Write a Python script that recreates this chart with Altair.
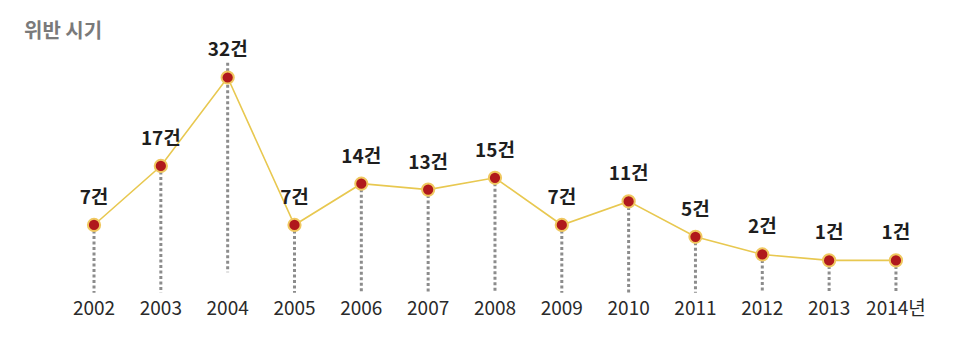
import altair as alt
import pandas as pd

years = [2002, 2003, 2004, 2005, 2006, 2007, 2008, 2009, 2010, 2011, 2012, 2013, 2014]
counts = [7, 17, 32, 7, 14, 13, 15, 7, 11, 5, 2, 1, 1]
year_labels = ["2002", "2003", "2004", "2005", "2006", "2007", "2008", "2009",
               "2010", "2011", "2012", "2013", "2014년"]
value_labels = [f"{c}건" for c in counts]
title_text = "위반 시기"

df = pd.DataFrame({
    "year": years,
    "count": counts,
    "ylab": year_labels,
    "vlab": value_labels,
})
# rule extents (dotted drop lines): from the point down below the baseline
df["rtop"] = df["count"]
df["rbot"] = -4.5
df.loc[df["year"] == 2004, "rtop"] = 34.5
df.loc[df["year"] == 2004, "rbot"] = -1.0

FONT = "Noto Sans CJK KR"
x = alt.X("year:Q", scale=alt.Scale(domain=[2000.713, 2014.749], nice=False, zero=False), axis=None)
yscale = alt.Scale(domain=[-13.68, 43.78], nice=False, zero=False)

base = alt.Chart(df)

rules = base.mark_rule(color="#8c8c8c", strokeWidth=3, strokeDash=[3, 2.5]).encode(
    x=x,
    y=alt.Y("rtop:Q", scale=yscale, axis=None),
    y2="rbot:Q",
)
line = base.mark_line(color="#e8c850", strokeWidth=1.6).encode(
    x=x, y=alt.Y("count:Q", scale=yscale, axis=None)
)
points = base.mark_point(filled=True, fill="#b0181c", stroke="#f0c860", strokeWidth=2,
                         size=150, opacity=1, shape="circle").encode(
    x=x, y=alt.Y("count:Q", scale=yscale, axis=None)
)
vtext = base.mark_text(font=FONT, fontSize=19, fontWeight="bold", color="#1e1e1e",
                       dy=-27, baseline="middle").encode(
    x=x, y=alt.Y("count:Q", scale=yscale, axis=None), text="vlab:N"
)
ytext = base.mark_text(font=FONT, fontSize=19, color="#2a2a2a", baseline="middle").encode(
    x=x, y=alt.value(301), text="ylab:N"
)
title = alt.Chart(pd.DataFrame({"t": [title_text]})).mark_text(
    font=FONT, fontSize=20, fontWeight="bold", color="#7a7a7a", align="left", baseline="middle"
).encode(x=alt.value(16), y=alt.value(24), text="t:N")

chart = alt.layer(rules, line, points, vtext, ytext, title).properties(
    width=938, height=339,
    autosize=alt.AutoSizeParams(type="none"),
    padding=0,
).configure(background="white", view=alt.ViewConfig(strokeWidth=0, stroke="transparent"))

chart.save("out.html", embed_options={"renderer": "svg", "actions": False})
